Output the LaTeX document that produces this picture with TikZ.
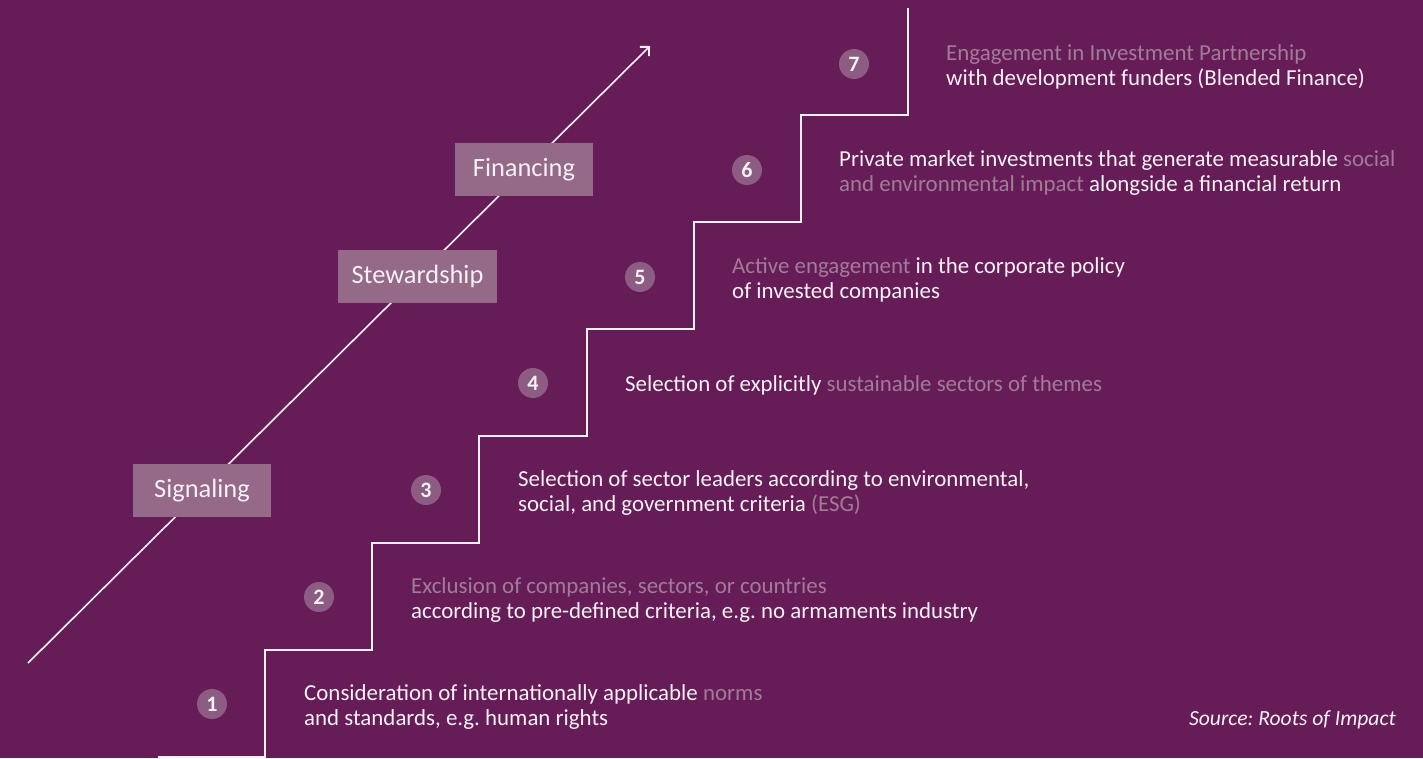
\documentclass[tikz,border=0pt]{standalone}
\usepackage{fontspec}
\setmainfont{Carlito}
\usetikzlibrary{arrows.meta}
\frenchspacing
\definecolor{bg}{HTML}{661D57}
\definecolor{boxc}{HTML}{946A88}
\definecolor{circc}{HTML}{8C5C82}
\definecolor{dim}{HTML}{A17B98}
\definecolor{wt}{HTML}{F7F0F5}
\newcommand{\gr}[1]{\textcolor{dim}{#1}}
\tikzset{
  desc/.style={anchor=base west, text=wt, font=\fontsize{22.9}{25}\selectfont, align=left, inner sep=0pt},
  num/.style={circle, fill=circc, minimum size=30pt, inner sep=0pt, text=wt, font=\fontsize{22}{22}\selectfont\bfseries},
  phase/.style={fill=boxc, text=wt, font=\fontsize{26.4}{26}\selectfont, inner sep=0pt},
  stair/.style={draw=wt, line width=2pt},
  arr/.style={draw=wt, line width=1.6pt, -{Straight Barb[angle=90:9.2pt, line width=1.8pt]}}
}
\begin{document}
\begin{tikzpicture}[x=1pt,y=-1pt]
\fill[bg] (0,0) rectangle (1423,758);
\useasboundingbox (0,0) rectangle (1423,758);
% arrow
\coordinate (as) at (28,663);
\coordinate (ae) at (650,46);
\draw[arr] (as) -- (ae);
% staircase
\coordinate (s0) at (158,757);
\draw[stair] (s0) -- (265,757) -- (265,650) -- (372,650) -- (372,543) -- (479,543) -- (479,436) -- (587,436) -- (587,329) -- (694,329) -- (694,222) -- (801,222) -- (801,115) -- (908,115) -- (908,8);
% phase boxes
\node[phase, minimum width=138pt, minimum height=53pt] (sig) at (202,490.5) {Signaling};
\node[phase, minimum width=159pt, minimum height=53pt] (stew) at (417.5,276.5) {Stewardship};
\node[phase, minimum width=138pt, minimum height=53pt] (fin) at (524,169.5) {Financing};
% numbers
\node[num] (n1) at (212,704) {1};
\node[num] (n2) at (319,597) {2};
\node[num] (n3) at (426,490) {3};
\node[num] (n4) at (533,383) {4};
\node[num] (n5) at (640,277) {5};
\node[num] (n6) at (747,170) {6};
\node[num] (n7) at (854,64) {7};
% descriptions (base = baseline of last line)
\node[desc] (t1) at (304,725) {Consideration of internationally applicable \gr{norms}\\and standards, e.g. human rights};
\node[desc] (t2) at (411,618) {\gr{Exclusion of companies, sectors, or countries}\\according to pre-defined criteria, e.g. no armaments industry};
\node[desc] (t3) at (518,511) {Selection of sector leaders according to environmental,\\social, and government criteria \gr{(ESG)}};
\node[desc] (t4) at (625,391) {Selection of explicitly \gr{sustainable sectors of themes}};
\node[desc] (t5) at (732,298) {\gr{Active engagement} in the corporate policy\\of invested companies};
\node[desc] (t6) at (839,191) {Private market investments that generate measurable \gr{social}\\\gr{and environmental impact} alongside a financial return};
\node[desc] (t7) at (946,85) {\gr{Engagement in Investment Partnership}\\with development funders (Blended Finance)};
\node[anchor=base east, text=wt, inner sep=0pt, font=\fontsize{21.6}{25}\selectfont\itshape] (src) at (1396,725) {Source: Roots of Impact};
\end{tikzpicture}
\end{document}
